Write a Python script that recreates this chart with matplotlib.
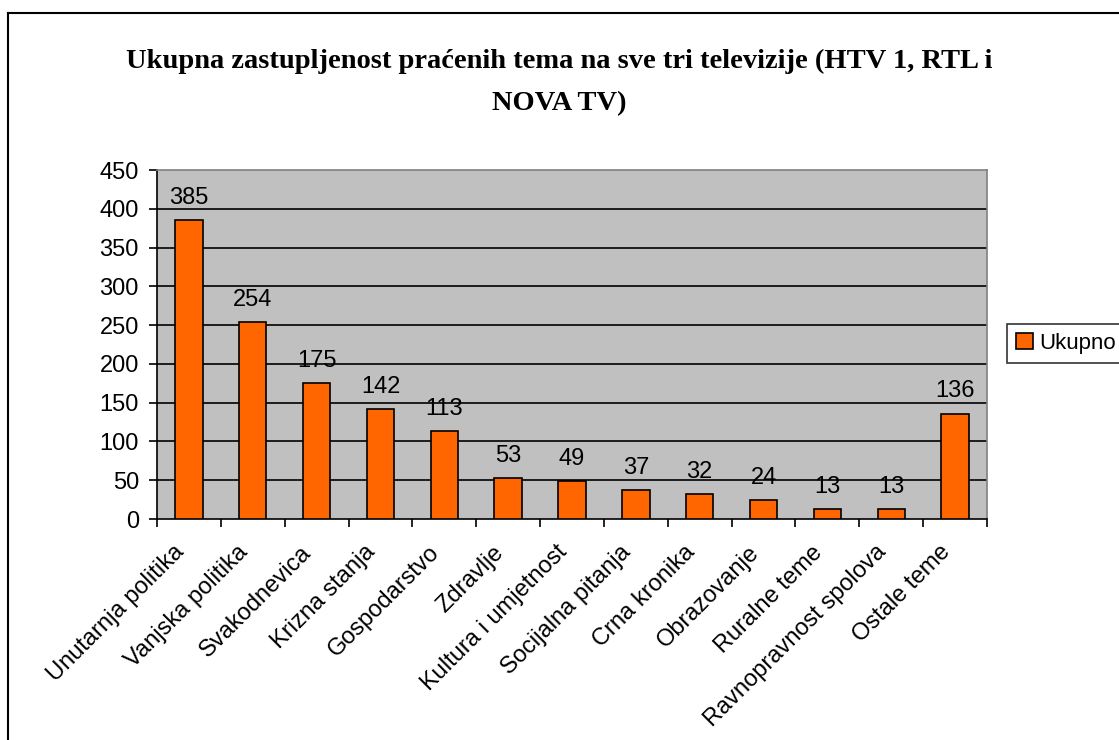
import matplotlib.pyplot as plt
import numpy as np
from matplotlib.lines import Line2D

categories = ['Unutarnja politika', 'Vanjska politika', 'Svakodnevica', 'Krizna stanja',
              'Gospodarstvo', 'Zdravlje', 'Kultura i umjetnost', 'Socijalna pitanja',
              'Crna kronika', 'Obrazovanje', 'Ruralne teme', 'Ravnopravnost spolova',
              'Ostale teme']
values = [385, 254, 175, 142, 113, 53, 49, 37, 32, 24, 13, 13, 136]
yticks = [0, 50, 100, 150, 200, 250, 300, 350, 400, 450]
title_lines = ['Ukupna zastupljenost praćenih tema na sve tri televizije (HTV 1, RTL i',
               'NOVA TV)']

plt.rcParams['font.family'] = ['Liberation Sans', 'DejaVu Sans']
FS = 17

fig = plt.figure(figsize=(11.19, 7.4), dpi=100)
ax = fig.add_axes([157/1119, 1 - 519/740, 830/1119, 349/740])
ax.set_facecolor('#C0C0C0')

x = np.arange(len(categories))
bars = ax.bar(x, values, width=0.43, color='#FF6600', edgecolor='black', linewidth=1.2,
              zorder=3, label='Ukupno')
for xi, v in zip(x, values):
    ax.annotate(str(v), (xi, v), xytext=(0, 8), textcoords='offset points',
                ha='center', va='bottom', fontsize=FS, zorder=4)

ax.set_xlim(-0.5, len(categories) - 0.5)
ax.set_ylim(0, 450)
ax.set_yticks(yticks)
ax.set_yticklabels([str(t) for t in yticks], fontsize=FS)
for t in yticks[1:-1]:
    ax.axhline(t, color='black', linewidth=1.2, zorder=1)

# tick marks between categories, labels at centres
ax.set_xticks(np.arange(len(categories) + 1) - 0.5)
ax.set_xticklabels([])
ax.set_xticks(x - 0.25, minor=True)
ax.set_xticklabels(categories, minor=True, rotation=45, ha='right',
                   rotation_mode='anchor', fontsize=FS)
ax.tick_params(axis='x', which='minor', length=0, pad=16)
ax.tick_params(axis='x', which='major', direction='out', length=6, width=1.2)
ax.tick_params(axis='y', direction='out', length=6, width=1.2, pad=7)

for s in ['top', 'right']:
    ax.spines[s].set_color('#808080')
    ax.spines[s].set_linewidth(1.2)
for s in ['left', 'bottom']:
    ax.spines[s].set_color('black')
    ax.spines[s].set_linewidth(1.2)

fig.text(0.5, 1 - 68/740, title_lines[0], ha='center', va='baseline', fontsize=20.5,
         fontweight='bold', family='Liberation Serif')
fig.text(0.5, 1 - 110/740, title_lines[1], ha='center', va='baseline', fontsize=20.5,
         fontweight='bold', family='Liberation Serif')

leg = fig.legend(handles=[bars], loc='upper left', bbox_to_anchor=(1007/1119, 1 - 324/740),
                 frameon=True, fancybox=False, edgecolor='black', fontsize=16,
                 handlelength=0.75, handleheight=0.75, handletextpad=0.3,
                 borderpad=0.4, borderaxespad=0)
leg.get_frame().set_linewidth(1.2)

# chart border (partly outside the image)
fig.add_artist(Line2D([8/1119, 8/1119], [0, 1 - 13/740], transform=fig.transFigure,
                      color='black', linewidth=1.5))
fig.add_artist(Line2D([8/1119, 1], [1 - 13/740, 1 - 13/740], transform=fig.transFigure,
                      color='black', linewidth=1.5))

fig.savefig('out.png', dpi=100)
